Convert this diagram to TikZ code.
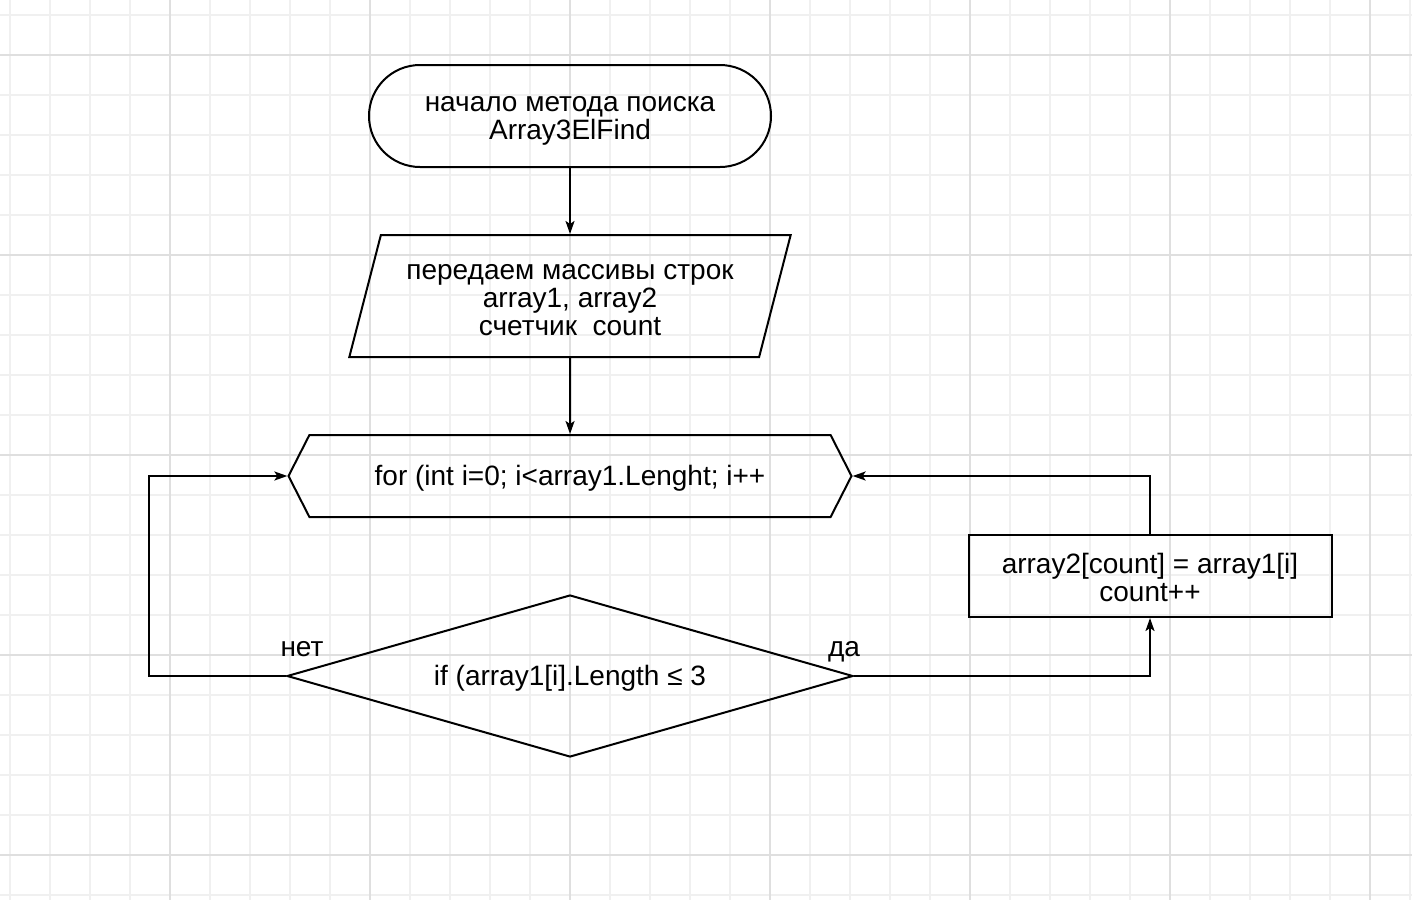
\documentclass[tikz,border=0pt]{standalone}
\usepackage{fontspec}
\setmainfont{Liberation Sans}
\usepackage{tikz}
\usetikzlibrary{arrows.meta, positioning, shapes.geometric, shapes.symbols}

\definecolor{gridminor}{RGB}{240,240,240}
\definecolor{gridmajor}{RGB}{223,223,223}
\newcommand{\topstrut}{\rule{0pt}{25pt}}
\newcommand{\botstrut}{\rule[-3pt]{0pt}{3pt}}

\begin{document}
\begin{tikzpicture}[x=1pt,y=-1pt,on grid,line width=2pt,>={Stealth[length=13pt,width=9pt,inset=3pt]},
        every node/.style={font=\fontsize{28}{28}\selectfont, align=center, inner sep=0pt},
        terminal/.style={draw, rounded corners=51pt, minimum width=402pt, minimum height=102pt},
        io/.style={draw, trapezium, trapezium left angle=72, trapezium right angle=108,
            trapezium stretches=true, minimum width=443pt, minimum height=122pt},
        loopbox/.style={draw, signal, signal to=west and east, signal pointer angle=126,
            minimum width=563pt, minimum height=82pt},
        decision/.style={draw, diamond, shape aspect=3.5, minimum width=566pt, minimum height=162pt},
        process/.style={draw, minimum width=363pt, minimum height=82pt}]

      \useasboundingbox (0,0) rectangle (1412,900);
      \fill[white] (0,0) rectangle (1412,900);
      \foreach \gx in {10,50,...,1410} \draw[gridminor,line width=1.6pt] (\gx,0) -- (\gx,900);
      \foreach \gy in {15,55,...,895} \draw[gridminor,line width=1.6pt] (0,\gy) -- (1412,\gy);
      \foreach \gx in {170,370,...,1370} \draw[gridmajor,line width=1.6pt] (\gx,0) -- (\gx,900);
      \foreach \gy in {55,255,...,855} \draw[gridmajor,line width=1.6pt] (0,\gy) -- (1412,\gy);

      \node[terminal]  (start) at (570,116)        {\topstrut начало метода поиска\\Array3ElFind\botstrut};
      \node[io]        (input) [below=180pt of start] {\topstrut передаем массивы строк\\array1, array2\\счетчик\ \ count\botstrut};
      \node[loopbox]   (loop)  [below=180pt of input] {\topstrut for (int i=0; i<array1.Lenght; i++\botstrut};
      \node[decision]  (cond)  [below=200pt of loop]  {\topstrut if (array1[i].Length ≤ 3\botstrut};
      \node[process]   (body)  [below right=100pt and 580pt of loop] {\topstrut array2[count] = array1[i]\\count++\botstrut};

      \draw[->] (start) -- (input);
      \draw[->] (input) -- (loop);
      \draw[->] (cond.west) node[anchor=base, xshift=16pt, yshift=20pt] {нет}
                -- ++(-137,0) |- (loop.west);
      \draw[->] (cond.east) node[anchor=base, xshift=-10pt, yshift=20pt] {да}
                -| (body.south);
      \draw[->] (body.north) |- (loop.east);
    \end{tikzpicture}
\end{document}
